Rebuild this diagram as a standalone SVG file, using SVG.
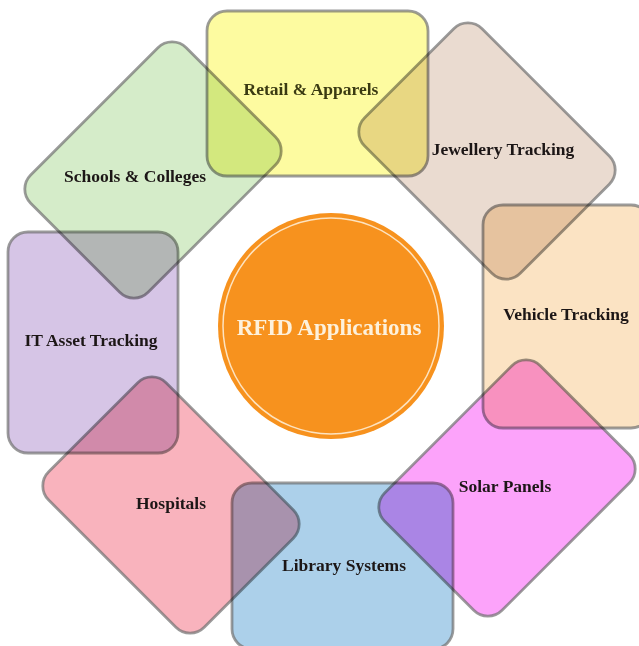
<svg xmlns="http://www.w3.org/2000/svg" width="639" height="646" viewBox="0 0 639 646">
<style>
.card{stroke:#707070;stroke-width:2.8;mix-blend-mode:multiply;stroke-opacity:0.7}
.lbl{font-family:"Liberation Serif","Times New Roman",serif;font-weight:bold;font-size:17.5px;text-anchor:middle;fill:#1c1616}
.title{font-family:"Liberation Serif","Times New Roman",serif;font-weight:bold;font-size:23px;text-anchor:middle;fill:#fdf1dc}
</style>
<rect width="639" height="646" fill="#ffffff"/>
<g id="connectors"></g>
<g id="retail">
<rect class="card" x="207" y="11" width="221" height="165" rx="20" fill="#fdfba0"/>
<text class="lbl" x="311" y="95" style="fill:#3a3a12">Retail &amp; Apparels</text>
</g>
<g id="jewellery">
<rect class="card" x="-110" y="-83" width="220" height="166" rx="20" fill="#eadbd0" transform="translate(487,151) rotate(45)"/>
<text class="lbl" x="503" y="155">Jewellery Tracking</text>
</g>
<g id="schools">
<rect class="card" x="-110" y="-83" width="220" height="166" rx="20" fill="#d5ecc9" transform="translate(153,170) rotate(-45)"/>
<text class="lbl" x="135" y="182">Schools &amp; Colleges</text>
</g>
<g id="vehicle">
<rect class="card" x="483" y="205" width="168" height="223" rx="20" fill="#fbe3c3"/>
<text class="lbl" x="566" y="320">Vehicle Tracking</text>
</g>
<g id="it-asset">
<rect class="card" x="8" y="232" width="170" height="221" rx="20" fill="#d6c5e6"/>
<text class="lbl" x="91" y="346">IT Asset Tracking</text>
</g>
<g id="solar">
<rect class="card" x="-110" y="-83" width="220" height="166" rx="20" fill="#fca3fa" transform="translate(507,488) rotate(-45)"/>
<text class="lbl" x="505" y="492">Solar Panels</text>
</g>
<g id="hospitals">
<rect class="card" x="-110" y="-83" width="220" height="166" rx="20" fill="#f9b3bd" transform="translate(171,505) rotate(45)"/>
<text class="lbl" x="171" y="509">Hospitals</text>
</g>
<g id="library">
<rect class="card" x="232" y="483" width="221" height="166" rx="20" fill="#acd0ea"/>
<text class="lbl" x="344" y="571">Library Systems</text>
</g>
<g id="rfid">
<circle cx="331" cy="326" r="113" fill="#f7921e"/>
<circle cx="331" cy="326" r="108" fill="none" stroke="#fde3c0" stroke-width="1.5"/>
<text class="title" x="329" y="335">RFID Applications</text>
</g>
</svg>
